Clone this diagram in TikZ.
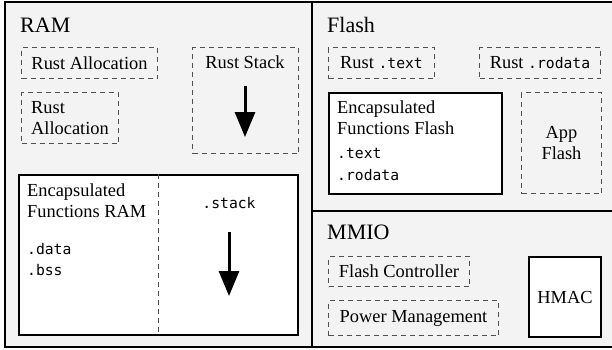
\documentclass[tikz,border=0pt]{standalone}
\usepackage{fontspec}
\setmainfont{Liberation Serif}
\setmonofont{DejaVu Sans Mono}
\usetikzlibrary{arrows.meta}
\definecolor{bgray}{RGB}{243,243,243}
\definecolor{dgray}{RGB}{80,80,80}
\newcommand\bodyfnt{\fontsize{18.4}{21}\selectfont}
\newcommand\titlefnt{\fontsize{22}{26}\selectfont}
\newcommand\mytt[1]{{\ttfamily\fontsize{14.7}{21}\selectfont #1}}
\tikzset{
  region/.style={draw=black, line width=2pt},
  dbox/.style={draw=dgray, line width=1pt, dash pattern=on 5pt off 4pt, inner sep=0pt, anchor=north west, font=\bodyfnt},
  sbox/.style={draw=black, line width=2pt, fill=white, inner sep=0pt, anchor=north west, font=\bodyfnt},
  ttl/.style={anchor=base west, inner sep=0pt, font=\titlefnt},
  txt/.style={inner sep=0pt, font=\bodyfnt},
  bigarrow/.style={line width=3pt, -{Triangle[width=20pt,length=25pt]}},
}
\begin{document}
\begin{tikzpicture}[x=1pt,y=-1pt]
\useasboundingbox (0,0) rectangle (612,349);
% outer frame
\draw[region, fill=bgray] (5,2) rectangle (616,347);
\coordinate (vtop) at (312,2);
\coordinate (vbot) at (312,347);
\coordinate (hleft) at (312,211);
\coordinate (hright) at (616,211);
\draw[region] (vtop) -- (vbot);
\draw[region] (hleft) -- (hright);

% ---------------- RAM
\node[ttl] (ramt) at (20,32) {RAM};
\node[dbox, minimum width=136pt, minimum height=31pt] (ra1) at (21,47) {Rust Allocation};
\node[dbox, minimum width=97pt, minimum height=51pt, align=left] (ra2) at (21,92) {Rust\\Allocation};
\node[dbox, minimum width=106pt, minimum height=106pt] (rs) at (192,47) {};
\node[txt, anchor=base] (rst) at (245,68) {Rust Stack};
\coordinate (rsa1) at (245,86);
\coordinate (rsa2) at (245,137);
\draw[bigarrow] (rsa1) -- (rsa2);

\node[sbox, minimum width=279pt, minimum height=160pt] (encram) at (18,174) {};
\coordinate (dv1) at (158,174);
\coordinate (dv2) at (158,334);
\draw[draw=dgray, line width=1pt, dash pattern=on 5pt off 4pt] (dv1) -- (dv2);
\node[txt, anchor=north west, align=left] (encramt) at (27,183.4) {Encapsulated\\Functions RAM};
\node[anchor=base west, inner sep=0pt] (data) at (27,254) {\mytt{.data}};
\node[anchor=base west, inner sep=0pt] (bss) at (27,275) {\mytt{.bss}};
\node[anchor=base, inner sep=0pt] (stk) at (229,208) {\mytt{.stack}};
\coordinate (sa1) at (229,232);
\coordinate (sa2) at (229,296);
\draw[bigarrow] (sa1) -- (sa2);

% ---------------- Flash
\node[ttl] (flt) at (327,32) {Flash};
\node[dbox, minimum width=106pt, minimum height=31pt] (rtext) at (328,47) {Rust \mytt{.text}};
\node[dbox, minimum width=121pt, minimum height=31pt] (rrod) at (479,47) {Rust \mytt{.rodata}};
\node[sbox, minimum width=173pt, minimum height=101pt] (encfl) at (328,92) {};
\node[txt, anchor=north west, align=left] (encflt) at (337,100.5) {Encapsulated\\Functions Flash};
\node[anchor=base west, inner sep=0pt] (ftext) at (337,158) {\mytt{.text}};
\node[anchor=base west, inner sep=0pt] (frod) at (337,180) {\mytt{.rodata}};
\node[dbox, minimum width=80pt, minimum height=101pt, align=center] (app) at (521,92) {App\\Flash};

% ---------------- MMIO
\node[ttl] (mmt) at (327,239) {MMIO};
\node[dbox, minimum width=141pt, minimum height=30pt] (fc) at (328,256) {Flash Controller};
\node[dbox, minimum width=170pt, minimum height=35pt] (pm) at (328,300) {Power Management};
\node[sbox, minimum width=72pt, minimum height=80pt] (hmac) at (528,256) {HMAC};
\end{tikzpicture}
\end{document}
